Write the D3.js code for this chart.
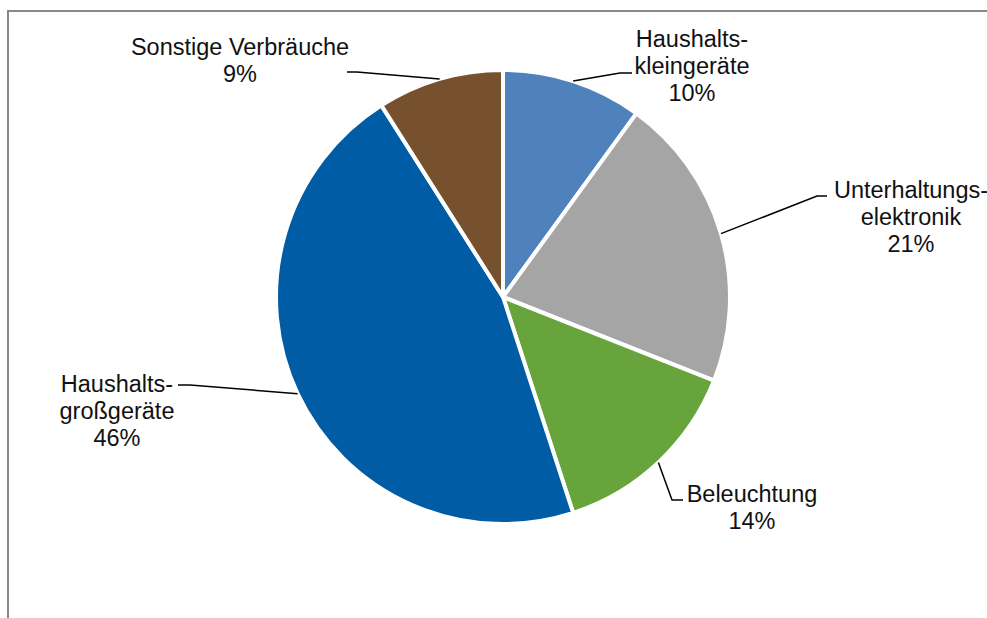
<!DOCTYPE html>
<html>
<head>
<meta charset="utf-8">
<script src="https://cdn.jsdelivr.net/npm/d3@7"></script>
<style>
  body { margin: 0; background: #fff; }
  svg { display: block; }
  text { font-family: "Liberation Sans", Arial, sans-serif; font-size: 23.5px; fill: #111; }
</style>
</head>
<body>
<script>
// data, clockwise from 12 o'clock
const categories = ["Haushalts-kleingeräte", "Unterhaltungs-elektronik", "Beleuchtung", "Haushalts-großgeräte", "Sonstige Verbräuche"]
const labelLines = [["Haushalts-", "kleingeräte"], ["Unterhaltungs-", "elektronik"], ["Beleuchtung"], ["Haushalts-", "großgeräte"], ["Sonstige Verbräuche"]]
const shares = [10, 21, 14, 46, 9]
const colors = ["#4f81bd", "#a5a5a5", "#67a43c", "#005da5", "#77512d"]

const width = 987
const height = 618
const cx = 503, cy = 297, r = 227

// label placement: elbow of leader, end of leader, text centre, first baseline
const layout = [
  {elbow: [620, 73], end: [632, 73], x: 692, y: 47},
  {elbow: [817, 196], end: [827, 196], x: 911, y: 198},
  {elbow: [672, 500], end: [683, 500], x: 752, y: 502},
  {elbow: [190, 385], end: [178, 385], x: 117, y: 392},
  {elbow: [357, 72], end: [347, 72], x: 240, y: 55}
]

const svg = d3.select("body").append("svg")
  .attr("width", width)
  .attr("height", height)

// chart frame (only left and top edges visible)
svg.append("rect")
  .attr("x", 8).attr("y", 11)
  .attr("width", width + 20).attr("height", height + 20)
  .attr("fill", "none")
  .attr("stroke", "#888")
  .attr("stroke-width", 2)

const pie = d3.pie().sort(null).value(d => d)
const arcs = pie(shares)

const arc = d3.arc().innerRadius(0).outerRadius(r)
const edge = d3.arc().innerRadius(r).outerRadius(r)

const g = svg.append("g").attr("transform", `translate(${cx},${cy})`)

g.selectAll("path")
  .data(arcs)
  .enter()
  .append("path")
  .attr("d", arc)
  .attr("fill", (d, i) => colors[i])
  .attr("stroke", "#fff")
  .attr("stroke-width", 4)
  .attr("stroke-linejoin", "round")

// leader lines
svg.selectAll("polyline.leader")
  .data(arcs)
  .enter()
  .append("polyline")
  .attr("class", "leader")
  .attr("points", (d, i) => {
    const c = edge.centroid(d)
    const p0 = [cx + c[0], cy + c[1]]
    return [p0, layout[i].elbow, layout[i].end].map(p => p.join(",")).join(" ")
  })
  .attr("fill", "none")
  .attr("stroke", "#000")
  .attr("stroke-width", 1.5)

// labels
const lbl = svg.selectAll("text.lbl")
  .data(arcs)
  .enter()
  .append("text")
  .attr("class", "lbl")
  .attr("text-anchor", "middle")

lbl.selectAll("tspan")
  .data((d, i) => labelLines[i].concat([shares[i] + "%"]).map((t, k) => ({t, k, i})))
  .enter()
  .append("tspan")
  .attr("x", d => layout[d.i].x)
  .attr("y", d => layout[d.i].y + d.k * 27)
  .text(d => d.t)
</script>
</body>
</html>
